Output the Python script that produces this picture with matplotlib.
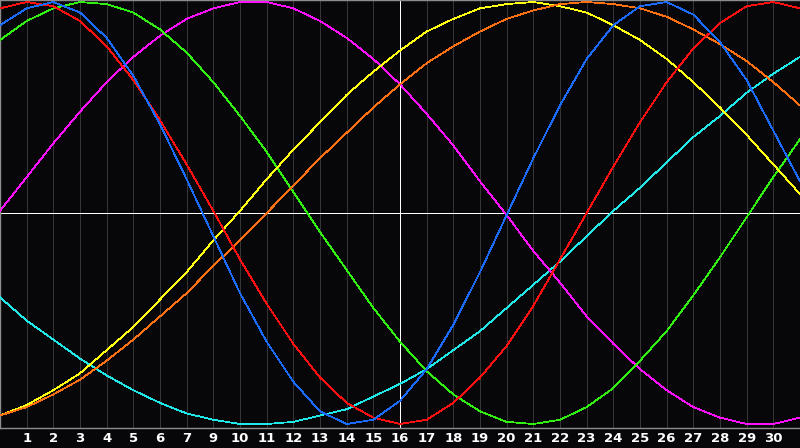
import numpy as np
import matplotlib
matplotlib.use("Agg")
import matplotlib.pyplot as plt

# day index along the chart (0 = left edge, 30 = right edge)
days = list(range(31))

# curve values, scale -100..100
red = [97, 100, 98, 91, 79, 63, 44, 23, 1, -22, -43, -62, -78, -90, -97, -100,
       -98, -90, -78, -63, -44, -22, 0, 22, 43, 62, 78, 90, 98, 100, 97]
blue = [89, 97, 100, 95, 83, 65, 42, 16, -11, -38, -61, -80, -94, -100, -98, -89,
        -74, -53, -28, -1, 26, 51, 73, 89, 98, 100, 94, 81, 63, 39, 15]
green = [82, 91, 97, 100, 99, 95, 87, 76, 62, 46, 29, 10, -9, -27, -45, -61,
         -75, -86, -94, -99, -100, -98, -92, -83, -70, -56, -39, -21, -2, 17, 35]
magenta = [1, 17, 33, 48, 62, 74, 84, 92, 97, 100, 100, 97, 91, 83, 73, 61,
           47, 32, 15, -1, -18, -33, -49, -62, -74, -84, -92, -97, -100, -100, -97]
yellow = [-96, -91, -84, -76, -65, -54, -41, -28, -13, 1, 16, 30, 43, 56, 67, 77,
          86, 92, 97, 99, 100, 98, 95, 89, 82, 73, 62, 50, 37, 23, 9]
orange = [-96, -92, -86, -79, -70, -60, -49, -38, -25, -13, 0, 13, 26, 38, 50, 61,
          71, 79, 86, 92, 96, 99, 100, 99, 97, 93, 87, 80, 72, 62, 51]
cyan = [-40, -51, -60, -69, -77, -84, -90, -95, -98, -100, -100, -99, -96, -93, -87, -81,
        -74, -65, -56, -45, -34, -23, -11, 1, 12, 24, 36, 46, 57, 66, 74]

# labels under the grid lines 1..29 (the original skips "8")
tick_pos = list(range(1, 30))
tick_labels = ["1", "2", "3", "4", "5", "6", "7", "9", "10", "11", "12", "13", "14", "15",
               "16", "17", "18", "19", "20", "21", "22", "23", "24", "25", "26", "27",
               "28", "29", "30"]

series = [
    (cyan, "#20e8e8"),
    (magenta, "#ff10ff"),
    (green, "#30f010"),
    (yellow, "#ffff10"),
    (orange, "#ff7010"),
    (red, "#ff1010"),
    (blue, "#1a6cff"),
]

bg = "#070609"
fig = plt.figure(figsize=(8, 4.48), dpi=100, facecolor=bg)
ax = fig.add_axes([0, 20 / 448, 1, 428 / 448])
ax.set_facecolor(bg)

for x in tick_pos:
    ax.axvline(x, color="#353535", lw=0.6, antialiased=False, zorder=1)

ax.axvline(15, color="white", lw=0.72, antialiased=False, zorder=2)
ax.axhline(0, color="white", lw=0.72, antialiased=False, zorder=2)

for vals, col in series:
    ax.plot(days, vals, color=col, lw=0.55, antialiased=False, zorder=3)

ax.set_xlim(0, 30)
ax.set_ylim(-101.9, 100.95)
ax.set_yticks([])
ax.set_xticks(tick_pos)
ax.set_xticklabels(tick_labels, color="white", fontsize=9.5, fontweight="bold")
ax.tick_params(axis="x", length=0, pad=3)

for side in ["left", "top", "bottom"]:
    ax.spines[side].set_color("#8c8c8c")
    ax.spines[side].set_linewidth(1.0)
ax.spines["right"].set_visible(False)

fig.savefig("out.png", dpi=100, facecolor=bg)
